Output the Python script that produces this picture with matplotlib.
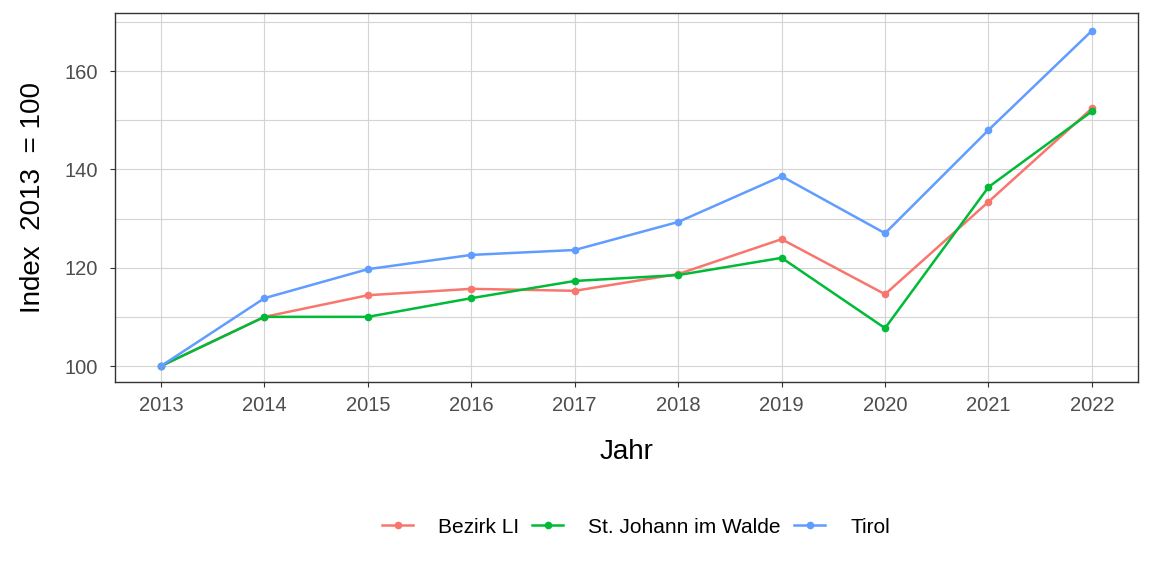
import numpy as np
import matplotlib
matplotlib.use("Agg")
import matplotlib.pyplot as plt
from matplotlib.ticker import MultipleLocator

plt.rcParams["font.family"] = ["Liberation Sans", "DejaVu Sans"]

# -------------------------------------------------------
# DATA
# -------------------------------------------------------
years = [2013, 2014, 2015, 2016, 2017, 2018, 2019, 2020, 2021, 2022]
bezirk_li = [100.0, 110.0, 114.4, 115.7, 115.3, 118.7, 125.8, 114.6, 133.4, 152.4]
st_johann = [100.0, 110.0, 110.0, 113.8, 117.3, 118.5, 122.0, 107.7, 136.4, 151.8]
tirol     = [100.0, 113.8, 119.7, 122.6, 123.6, 129.3, 138.6, 127.0, 148.0, 168.2]

series_names  = ["Bezirk LI", "St. Johann im Walde", "Tirol"]
series_values = [bezirk_li, st_johann, tirol]
series_colors = ["#F8766D", "#00BA38", "#619CFF"]

# -------------------------------------------------------
# PLOT
# -------------------------------------------------------
fig = plt.figure(figsize=(11.52, 5.76), dpi=100)
ax = fig.add_axes([0.0998, 0.3368, 0.8880, 0.6406])

for name, vals, col in zip(series_names, series_values, series_colors):
    ax.plot(years, vals, color=col, lw=1.8, marker="o", ms=4.5,
            label=name, solid_joinstyle="round")

ax.set_xlim(2012.555, 2022.445)
ax.set_ylim(96.75, 171.8)
ax.set_xticks(years)
ax.yaxis.set_major_locator(MultipleLocator(20))
ax.yaxis.set_minor_locator(MultipleLocator(10))

ax.grid(True, which="major", color="#d4d4d4", lw=0.8)
ax.grid(True, which="minor", axis="y", color="#d4d4d4", lw=0.8)
ax.set_axisbelow(True)
ax.tick_params(which="minor", length=0)
ax.tick_params(which="major", length=3.8, color="#333333", labelsize=14.5,
               labelcolor="#4D4D4D")
ax.tick_params(axis="x", pad=6.3)
ax.tick_params(axis="y", pad=8.5)
for s in ax.spines.values():
    s.set_color("#333333")
    s.set_linewidth(1.0)

ax.set_xlabel("Jahr", fontsize=20, labelpad=17)
ax.set_ylabel("Index  2013  = 100", fontsize=20, labelpad=13)

fig.legend(loc="center", bbox_to_anchor=(0.552, 0.085), ncol=3, frameon=False,
           fontsize=15, handlelength=1.5, columnspacing=0.62, handletextpad=1.2)

plt.savefig("out.png", dpi=100)
plt.close()
